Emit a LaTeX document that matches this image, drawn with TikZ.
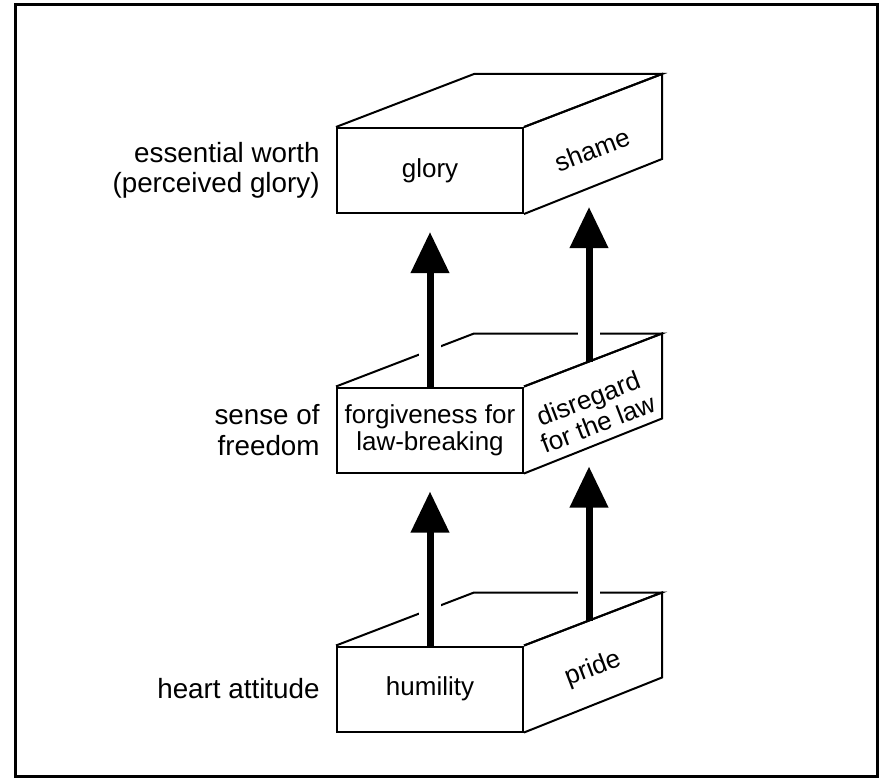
\documentclass[tikz,border=0pt]{standalone}
\usepackage{fontspec}
\setmainfont{Liberation Sans}
\usetikzlibrary{arrows.meta,calc}

\begin{document}
\begin{tikzpicture}[x=0.5pt,y=-0.5pt,
  face/.style={draw,line width=1pt,minimum width=93pt,minimum height=42.5pt,inner sep=0pt,align=center,font=\fontsize{13}{13.5}\selectfont},
  side/.style={draw,line width=1pt,line join=miter},
  level/.style={anchor=east,inner sep=0pt,align=right,font=\fontsize{13.9}{15.2}\selectfont},
  sidetext/.style={rotate=21,align=center,font=\fontsize{13}{13.5}\selectfont},
  halo/.style={white,line width=11pt},
  uparrow/.style={line width=3.5pt,-{Triangle[width=18.5pt,length=20.5pt]}}]
\useasboundingbox (0,0) rectangle (882,781);
\draw[line width=1.5pt] (15,5) rectangle (877,776);
% front faces
\node[face] (glory) at (430,170.5) {glory};
\node[face] (forgive) at (430,430) {forgiveness for\\law-breaking};
\node[face] (humility) at (430,689) {humility};
% top and right faces
\foreach \b in {glory,forgive,humility}{
  \draw[side] (\b.north west) -- ++(138,-53) -- ($(\b.north east)+(138,-53)$) -- (\b.north east);
  \draw[side] (\b.north east) -- ++(138,-53) -- ++(0,85) -- (\b.south east);
}
\node[sidetext] (shame) at ($(glory.east)+(68,-21)$) {shame};
\node[sidetext] (disregard) at ($(forgive.east)+(69,-19)$) {disregard\\for the law};
\node[sidetext] (pride) at ($(humility.east)+(69,-20)$) {pride};
% levels
\node[level] (worth) at ($(glory.west)+(-16,0)$) {essential worth\\(perceived glory)};
\node[level] (freedom) at ($(forgive.west)+(-16,0)$) {sense of\\freedom};
\node[level] (heart) at ($(humility.west)+(-16,0)$) {heart attitude};
% arrows
\coordinate (pride top) at ($(humility.north east)+(65,-25)$);
\coordinate (disregard top) at ($(forgive.north east)+(65,-25)$);
\draw[halo] ($(humility.north)+(0,-6)$) -- ($(forgive.south)+(0,59)$);
\draw[halo] ($(pride top)+(0,-6)$) -- ($(forgive.south east)+(65,34)$);
\draw[halo] ($(forgive.north)+(0,-6)$) -- ($(glory.south)+(0,59)$);
\draw[halo] ($(disregard top)+(0,-6)$) -- ($(glory.south east)+(65,34)$);
\draw[uparrow] (humility.north) -- ($(forgive.south)+(0,18)$);
\draw[uparrow] (pride top) -- ($(forgive.south east)+(65,-7)$);
\draw[uparrow] (forgive.north) -- ($(glory.south)+(0,18)$);
\draw[uparrow] (disregard top) -- ($(glory.south east)+(65,-7)$);
\end{tikzpicture}
\end{document}
